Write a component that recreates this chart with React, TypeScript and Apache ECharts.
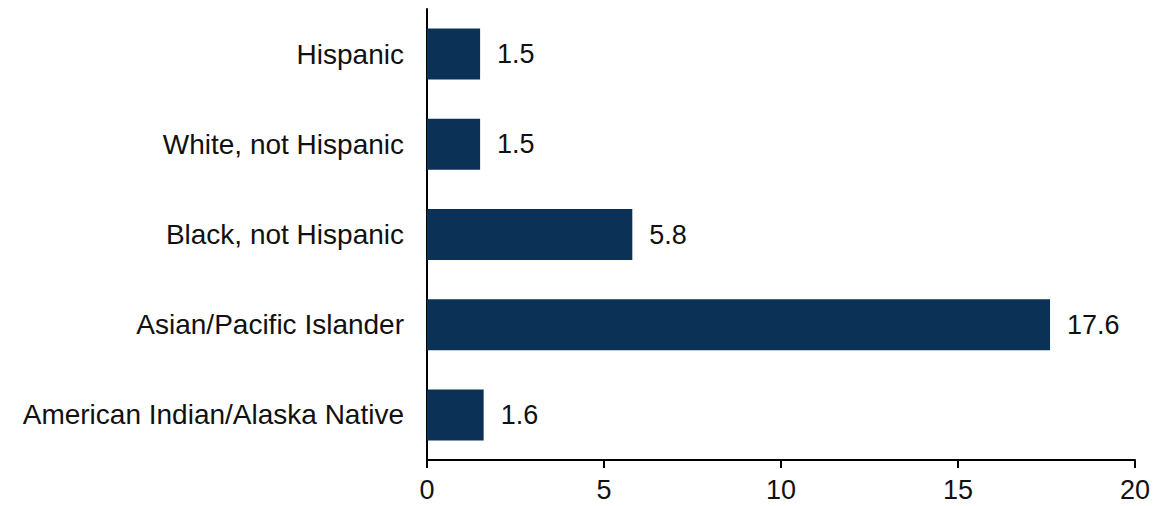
import React, { useEffect, useRef } from "react";
import * as echarts from "echarts";

const categories = [
  "American Indian/Alaska Native",
  "Asian/Pacific Islander",
  "Black, not Hispanic",
  "White, not Hispanic",
  "Hispanic",
];
const values = [1.6, 17.6, 5.8, 1.5, 1.5];
const xTicks = [0, 5, 10, 15, 20];

const FONT = "'Liberation Sans', Arial, sans-serif";
const BAR_COLOR = "#0b3256";

export default function App() {
  const ref = useRef<HTMLDivElement>(null);

  useEffect(() => {
    if (!ref.current) return;
    const chart = echarts.init(ref.current, undefined, { renderer: "svg" });
    chart.setOption({
      animation: false,
      backgroundColor: "#ffffff",
      grid: { left: 427, right: 38, top: 9, bottom: 46, containLabel: false },
      xAxis: {
        type: "value",
        min: xTicks[0],
        max: xTicks[xTicks.length - 1],
        interval: 5,
        splitLine: { show: false },
        axisLine: { show: true, lineStyle: { color: "#000", width: 2 } },
        axisTick: { show: true, length: 8, lineStyle: { color: "#000", width: 2 } },
        axisLabel: {
          color: "#111",
          fontFamily: FONT,
          fontSize: 27,
          margin: 16,
        },
      },
      yAxis: {
        type: "category",
        data: categories,
        axisLine: { show: true, lineStyle: { color: "#000", width: 2 } },
        axisTick: { show: false },
        axisLabel: {
          color: "#111",
          fontFamily: FONT,
          fontSize: 28,
          margin: 23,
        },
      },
      series: [
        {
          type: "bar",
          data: values,
          barWidth: 51,
          itemStyle: { color: BAR_COLOR },
          label: {
            show: true,
            position: "right",
            distance: 17,
            color: "#111",
            fontFamily: FONT,
            fontSize: 27,
            formatter: (p: any) => p.value.toFixed(1),
          },
        },
      ],
    });
    return () => chart.dispose();
  }, []);

  return (
    <div
      ref={ref}
      style={{ position: "fixed", left: 0, top: 0, width: 1173, height: 506 }}
    />
  );
}
